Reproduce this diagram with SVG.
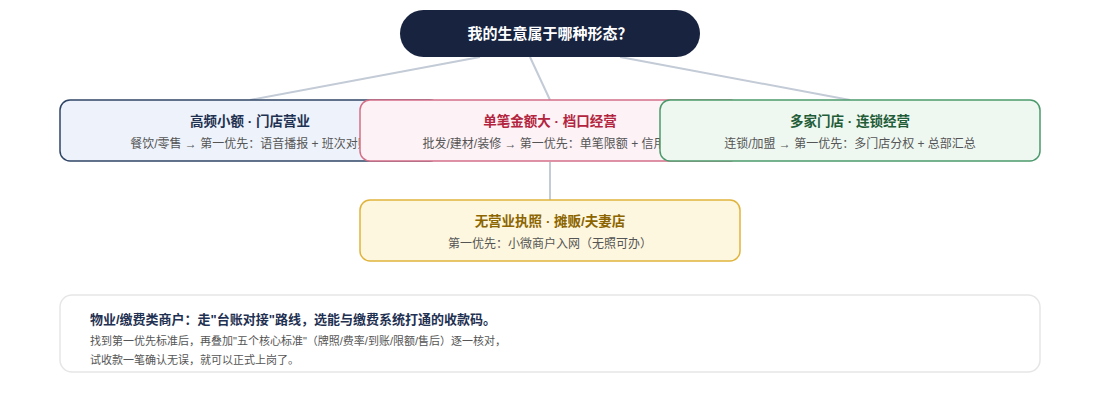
<svg xmlns="http://www.w3.org/2000/svg" width="1100" height="400" viewBox="0 0 1100 400">
<style>
text{font-family:"Liberation Sans","Noto Sans CJK SC",sans-serif;}
.t{font-size:13.5px;font-weight:bold;text-anchor:middle;}
.s{font-size:12px;fill:#555;text-anchor:middle;}
.box{stroke-width:1.5;}
.conn{stroke:#c3cbd6;stroke-width:2;fill:none;}
</style>
<rect width="1100" height="400" fill="#ffffff"/>
<g id="connectors">
<line class="conn" x1="480" y1="57" x2="250" y2="100"/>
<line class="conn" x1="530" y1="57" x2="550" y2="100"/>
<line class="conn" x1="620" y1="57" x2="850" y2="100"/>
<line class="conn" x1="550" y1="162" x2="550" y2="200"/>
</g>
<g id="root">
<rect x="400" y="10" width="300" height="47" rx="23.5" fill="#17233f"/>
<text x="550" y="38.5" style="font-size:15px;font-weight:bold;fill:#ffffff;text-anchor:middle">我的生意属于哪种形态？</text>
</g>
<g id="node-small">
<rect class="box" x="60" y="100" width="380" height="61" rx="10" fill="#eef3fb" stroke="#2f4565"/>
<text class="t" x="250" y="126" fill="#1f3152">高频小额 · 门店营业</text>
<text class="s" x="250" y="147.5">餐饮/零售 → 第一优先：语音播报 + 班次对账</text>
</g>
<g id="node-large">
<rect class="box" x="360" y="100" width="380" height="61" rx="10" fill="#fdf2f5" stroke="#d46f88"/>
<text class="t" x="550" y="126" fill="#b3243f">单笔金额大 · 档口经营</text>
<text class="s" x="550" y="147.5">批发/建材/装修 → 第一优先：单笔限额 + 信用卡</text>
</g>
<g id="node-chain">
<rect class="box" x="660" y="100" width="380" height="61" rx="10" fill="#eef8f1" stroke="#4c9a6c"/>
<text class="t" x="850" y="126" fill="#1f5c38">多家门店 · 连锁经营</text>
<text class="s" x="850" y="147.5">连锁/加盟 → 第一优先：多门店分权 + 总部汇总</text>
</g>
<g id="node-nolicense">
<rect class="box" x="360" y="200" width="380" height="61" rx="10" fill="#fef7df" stroke="#e0b43c"/>
<text class="t" x="550" y="226" fill="#8c6500">无营业执照 · 摊贩/夫妻店</text>
<text class="s" x="550" y="247.5">第一优先：小微商户入网（无照可办）</text>
</g>
<g id="note">
<rect x="60" y="295" width="980" height="77" rx="12" fill="#ffffff" stroke="#e6e6e6" stroke-width="1.5"/>
<text x="90" y="323.5" style="font-size:13px;font-weight:bold;fill:#1f3152">物业/缴费类商户：走"台账对接"路线，选能与缴费系统打通的收款码。</text>
<text x="90" y="344.5" style="font-size:11px;fill:#555">找到第一优先标准后，再叠加"五个核心标准"（牌照/费率/到账/限额/售后）逐一核对，</text>
<text x="90" y="363.5" style="font-size:11px;fill:#555">试收款一笔确认无误，就可以正式上岗了。</text>
</g>
</svg>
